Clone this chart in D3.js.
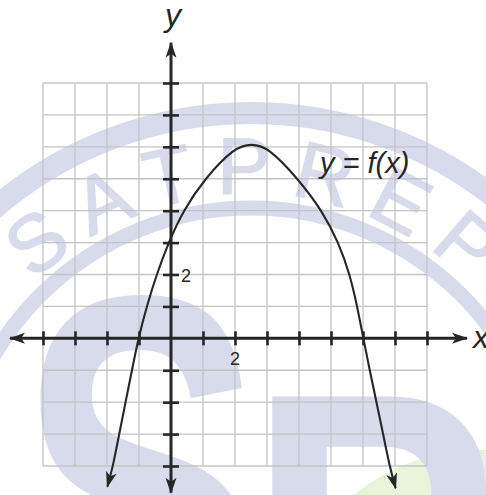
<!DOCTYPE html>
<html>
<head>
<meta charset="utf-8">
<script src="https://cdn.jsdelivr.net/npm/d3@7"></script>
<style>
  html, body { margin: 0; padding: 0; background: #fff; }
  svg { display: block; font-family: "Liberation Sans", Arial, sans-serif; }
</style>
</head>
<body>
<svg width="486" height="495"></svg>
<script>
var curveX = [-1.99, -1.81, -1.62, -1.42, -1.22, -1.02, -0.76, -0.45, -0.08, 0.38, 1.05, 2.0, 2.52, 3.02, 3.97, 4.72, 5.24, 5.59, 5.82, 6.01, 6.21, 6.42, 6.63, 6.83, 7.02];
var curveY = [-4.65, -4, -3, -2, -1, 0, 1, 2, 3, 4, 5, 6, 6.09, 6, 5, 4, 3, 2, 1, 0, -1, -2, -3, -4, -4.7];

var gridValues = [-4, -3, -2, -1, 0, 1, 2, 3, 4, 5, 6, 7, 8];
var xTicks = [-4, -3, -2, -1, 1, 2, 3, 4, 5, 6, 7, 8];
var yTicks = [-4, -3, -2, -1, 1, 2, 3, 4, 5, 6, 7, 8];
var xLabels = [2];
var yLabels = [2];
var xAxisEnds = [-5.03, 9.25];
var yAxisEnds = [-4.84, 9.26];

var svg = d3.select("svg");
var ink = "#262626";

var x = d3.scaleLinear().domain([-4, 8]).range([43, 427]);
var y = d3.scaleLinear().domain([-4, 8]).range([466, 83]);

// arrow head
var defs = svg.append("defs");
defs.append("marker")
    .attr("id", "arrow")
    .attr("markerUnits", "userSpaceOnUse")
    .attr("viewBox", "-17 -7 19 14")
    .attr("markerWidth", 19).attr("markerHeight", 14)
    .attr("refX", 0).attr("refY", 0)
    .attr("orient", "auto-start-reverse")
    .append("path")
    .attr("d", "M1,0 L-15,-5.5 L-11,0 L-15,5.5 Z")
    .attr("fill", ink);

// watermark (background)
var wm = svg.append("g").attr("class", "watermark");
var lav = "#d8dbec";
var wc = [251, 506];
wm.append("circle").attr("cx", 480).attr("cy", 650).attr("r", 200).attr("fill", "#e8f4da");
wm.append("circle").attr("cx", wc[0]).attr("cy", wc[1]).attr("r", 393)
    .attr("fill", "none").attr("stroke", lav).attr("stroke-width", 22);
wm.append("circle").attr("cx", wc[0]).attr("cy", wc[1]).attr("r", 298)
    .attr("fill", "none").attr("stroke", lav).attr("stroke-width", 15);
var arcR = 312, a0 = -170 * Math.PI / 180, a1 = -10 * Math.PI / 180;
defs.append("path").attr("id", "wmArc")
    .attr("d", "M" + (wc[0] + arcR * Math.cos(a0)) + "," + (wc[1] + arcR * Math.sin(a0)) +
        " A" + arcR + "," + arcR + " 0 0 1 " + (wc[0] + arcR * Math.cos(a1)) + "," + (wc[1] + arcR * Math.sin(a1)));
wm.append("text")
    .attr("font-size", 80).attr("fill", lav).attr("stroke", lav).attr("stroke-width", 1.5)
    .attr("letter-spacing", 19)
    .append("textPath").attr("href", "#wmArc").attr("startOffset", 195)
    .text("SATPREP");
wm.append("text").attr("transform", "translate(18,672) scale(0.68,1)")
    .attr("font-size", 540).attr("font-weight", "bold").attr("fill", lav).text("S");
wm.append("text").attr("transform", "translate(247,706) scale(0.84,1)")
    .attr("font-size", 450).attr("font-weight", "bold").attr("fill", lav).text("P");

// grid
var grid = svg.append("g").attr("stroke", "#c4c4c4").attr("stroke-width", 1.3);
grid.selectAll(".gx").data(gridValues).enter().append("line")
    .attr("x1", function (d) { return x(d); }).attr("x2", function (d) { return x(d); })
    .attr("y1", y(8)).attr("y2", y(-4));
grid.selectAll(".gy").data(gridValues).enter().append("line")
    .attr("y1", function (d) { return y(d); }).attr("y2", function (d) { return y(d); })
    .attr("x1", x(-4)).attr("x2", x(8));

// axes with crossing ticks
svg.append("g")
    .attr("transform", "translate(0," + (y(0) - 7) + ")")
    .call(d3.axisBottom(x).tickValues(xTicks).tickSize(14).tickFormat(""));
svg.append("g")
    .attr("transform", "translate(" + (x(0) + 8) + ",0)")
    .call(d3.axisLeft(y).tickValues(yTicks).tickSize(16).tickFormat(""));
svg.selectAll(".domain").remove();
svg.selectAll(".tick line").attr("stroke", ink).attr("stroke-width", 2.6);

svg.append("line")
    .attr("x1", x(xAxisEnds[0])).attr("x2", x(xAxisEnds[1]))
    .attr("y1", y(0)).attr("y2", y(0))
    .attr("stroke", ink).attr("stroke-width", 3)
    .attr("marker-start", "url(#arrow)").attr("marker-end", "url(#arrow)");
svg.append("line")
    .attr("x1", x(0)).attr("x2", x(0))
    .attr("y1", y(yAxisEnds[0])).attr("y2", y(yAxisEnds[1]))
    .attr("stroke", ink).attr("stroke-width", 3)
    .attr("marker-start", "url(#arrow)").attr("marker-end", "url(#arrow)");

// tick labels
svg.selectAll(".xl").data(xLabels).enter().append("text")
    .attr("x", function (d) { return x(d); }).attr("y", y(0) + 27)
    .attr("text-anchor", "middle").attr("font-size", 18).attr("fill", ink)
    .text(function (d) { return d; });
svg.selectAll(".yl").data(yLabels).enter().append("text")
    .attr("x", x(0) + 10).attr("y", function (d) { return y(d) + 7; })
    .attr("font-size", 18).attr("fill", ink)
    .text(function (d) { return d; });

// axis names
svg.append("text").attr("x", 473).attr("y", 348)
    .attr("font-size", 32).attr("font-style", "italic").attr("fill", ink).text("x");
svg.append("text").attr("x", 173).attr("y", 26).attr("text-anchor", "middle")
    .attr("font-size", 32).attr("font-style", "italic").attr("fill", ink).text("y");

// the curve
var pts = curveX.map(function (d, i) { return [d, curveY[i]]; });
var line = d3.line()
    .x(function (d) { return x(d[0]); })
    .y(function (d) { return y(d[1]); })
    .curve(d3.curveBasis);
svg.append("path")
    .datum(pts)
    .attr("d", line)
    .attr("fill", "none").attr("stroke", ink).attr("stroke-width", 2.1)
    .attr("marker-start", "url(#arrow)").attr("marker-end", "url(#arrow)");

svg.append("text").attr("x", 320).attr("y", 173)
    .attr("font-size", 29).attr("font-style", "italic").attr("fill", ink)
    .text("y = f(x)");
</script>
</body>
</html>
